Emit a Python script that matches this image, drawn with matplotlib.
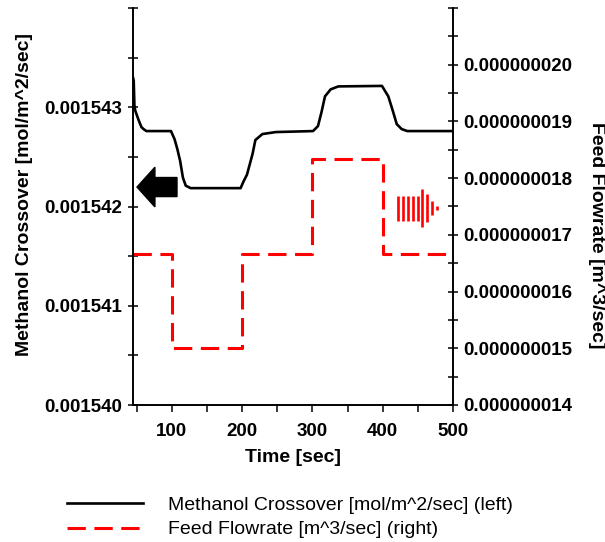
import numpy as np
import matplotlib
matplotlib.use('Agg')
import matplotlib.pyplot as plt
import matplotlib.patches as mpatches
from matplotlib.ticker import StrMethodFormatter

plt.rcParams['font.family'] = ['Liberation Sans', 'DejaVu Sans']

# Methanol crossover (left axis)
time_mc = [45, 46, 47, 48, 50, 53, 57, 60, 64, 99, 104, 108, 112, 116, 120, 127,
           198, 202, 207, 215, 219, 229, 248, 301, 308, 313, 318, 326, 337,
           399, 408, 415, 420, 427, 435, 500]
methanol = [1.54330e-3, 1.54327e-3, 1.54302e-3, 1.54297e-3, 1.54293e-3, 1.54287e-3,
            1.54280e-3, 1.54278e-3, 1.54276e-3, 1.54276e-3, 1.54268e-3, 1.54258e-3,
            1.54246e-3, 1.54229e-3, 1.54221e-3, 1.542185e-3,
            1.542185e-3, 1.54225e-3, 1.54232e-3, 1.54253e-3, 1.54267e-3, 1.54273e-3,
            1.54275e-3, 1.54276e-3, 1.54281e-3, 1.54295e-3, 1.54311e-3, 1.54318e-3,
            1.54321e-3, 1.543215e-3, 1.54311e-3, 1.54295e-3, 1.54283e-3, 1.54278e-3,
            1.54276e-3, 1.54276e-3]

# Feed flowrate (right axis), step changes every 100 s
time_feed = [45, 100, 200, 300, 400, 500]
feed = [1.6667e-8, 1.5e-8, 1.6667e-8, 1.8333e-8, 1.6667e-8, 1.6667e-8]

left_ticks = [0.001540, 0.001541, 0.001542, 0.001543]
right_ticks = [1.4e-8, 1.5e-8, 1.6e-8, 1.7e-8, 1.8e-8, 1.9e-8, 2.0e-8]
x_ticks = [100, 200, 300, 400, 500]

fig = plt.figure(figsize=(6.05, 5.42), dpi=100)
ax = fig.add_axes([133 / 605, 1 - 405 / 542, 320 / 605, 397 / 542])
ax2 = ax.twinx()

l1, = ax.plot(time_mc, methanol, color='black', lw=1.9,
              label='Methanol Crossover [mol/m^2/sec] (left)')
l2, = ax2.step(time_feed, feed, where='post', color='#ff0000', lw=2.2,
               dashes=(6, 2.8), label='Feed Flowrate [m^3/sec] (right)')

ax.set_xlim(45, 500)
ax.set_ylim(0.001540, 0.001544)
ax2.set_ylim(1.4e-8, 2.1e-8)

ax.set_xticks(x_ticks)
ax.set_xticks([50, 150, 250, 350, 450], minor=True)
ax.set_yticks(left_ticks)
ax.set_yticks([0.0015405, 0.0015415, 0.0015425, 0.0015435, 0.001544], minor=True)
ax.yaxis.set_major_formatter(StrMethodFormatter('{x:.6f}'))
ax2.set_yticks(right_ticks)
ax2.set_yticks([1.45e-8, 1.55e-8, 1.65e-8, 1.75e-8, 1.85e-8, 1.95e-8, 2.05e-8, 2.1e-8],
               minor=True)
ax2.yaxis.set_major_formatter(StrMethodFormatter('{x:.9f}'))

for a in (ax, ax2):
    a.spines['top'].set_visible(False)
    for s in a.spines.values():
        s.set_linewidth(1.2)
ax.tick_params(axis='y', which='both', direction='inout', length=7, width=1.1,
               labelsize=13.5, pad=4)
ax.tick_params(axis='x', which='both', direction='out', length=5, width=1.1,
               labelsize=13.5, pad=8)
ax2.tick_params(axis='y', which='both', direction='inout', length=7, width=1.1,
                labelsize=13.5, pad=4)
for lab in ax.get_xticklabels() + ax.get_yticklabels() + ax2.get_yticklabels():
    lab.set_fontweight('bold')

ax.set_xlabel('Time [sec]', fontsize=14, fontweight='bold')
ax.xaxis.set_label_coords(0.5, -0.11)
ax.set_ylabel('Methanol Crossover [mol/m^2/sec]', fontsize=14, fontweight='bold',
              va='center')
ax.yaxis.set_label_coords(-0.3375, 0.529)
ax2.set_ylabel('Feed Flowrate [m^3/sec]', fontsize=14, fontweight='bold',
               rotation=270, va='center', ha='center')
ax2.yaxis.set_label_coords(1.45, 0.428)

# black arrow pointing to the left axis
ax.add_patch(mpatches.FancyArrow(0.1375, 0.549, -0.125, 0, width=0.048,
                                 head_width=0.10, head_length=0.056,
                                 length_includes_head=True, color='black',
                                 transform=ax.transAxes))

# striped red arrow pointing to the right axis
stripe_x = [0.828, 0.844, 0.859, 0.875, 0.891, 0.903, 0.919, 0.934, 0.950]
stripe_h = [0.0315, 0.0315, 0.0315, 0.0315, 0.0315, 0.048, 0.035, 0.018, 0.005]
for sx, sh in zip(stripe_x, stripe_h):
    ax.plot([sx, sx], [0.496 - sh, 0.496 + sh], color='#ff0000', lw=1.9,
            transform=ax.transAxes, solid_capstyle='butt')

fig.legend(handles=[l1, l2], loc='upper left', bbox_to_anchor=(0.111, 0.084),
           frameon=False, fontsize=14, handlelength=3.9, handletextpad=1.3,
           labelspacing=0.35, borderpad=0, borderaxespad=0)

fig.savefig('out.png', dpi=100)
